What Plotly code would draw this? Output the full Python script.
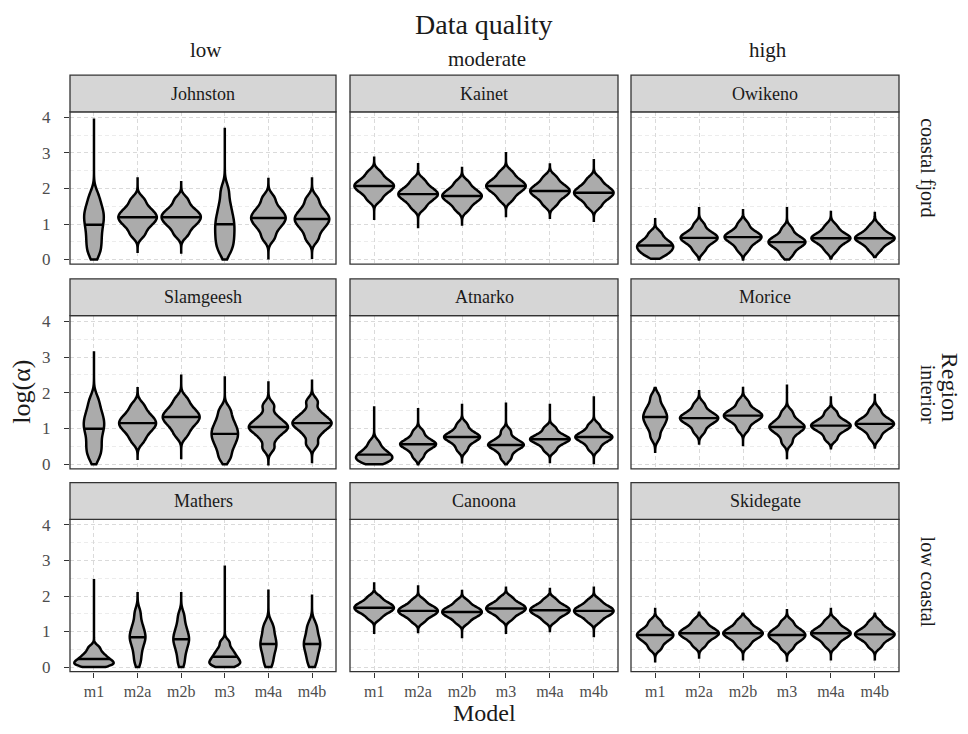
import plotly.graph_objects as go

W, H = 968, 734
MODELS = ["m1", "m2a", "m2b", "m3", "m4a", "m4b"]
QUALITY = ["low", "moderate", "high"]
REGIONS = ["coastal fjord", "interior", "low coastal"]
SITES = [["Johnston", "Kainet", "Owikeno"],
         ["Slamgeesh", "Atnarko", "Morice"],
         ["Mathers", "Canoona", "Skidegate"]]
Y_TICKS = [0, 1, 2, 3, 4]

# ---- posterior samples (quantile-like points), span [min, max], kde bandwidth
JOHNSTON_SAMPLES = [
    [0.15, 0.38, 0.6, 0.82, 1.02, 1.18, 1.34, 1.52, 1.8],
    [0.69, 0.89, 1.02, 1.11, 1.19, 1.27, 1.36, 1.49, 1.69],
    [0.7, 0.9, 1.02, 1.11, 1.19, 1.27, 1.35, 1.48, 1.69],
    [0.22, 0.42, 0.6, 0.78, 0.95, 1.12, 1.32, 1.58, 1.95],
    [0.6, 0.83, 0.98, 1.08, 1.17, 1.26, 1.36, 1.51, 1.74],
    [0.57, 0.8, 0.95, 1.05, 1.14, 1.23, 1.33, 1.48, 1.71]]
JOHNSTON_RANGE = [[0, 3.97], [0.18, 2.32], [0.16, 2.21], [0, 3.71], [0, 2.3], [0.05, 2.32]]
JOHNSTON_BW = [0.2, 0.12, 0.12, 0.2, 0.13, 0.13]

KAINET_SAMPLES = [
    [1.68, 1.84, 1.94, 2.01, 2.07, 2.13, 2.2, 2.3, 2.46],
    [1.45, 1.61, 1.71, 1.78, 1.84, 1.9, 1.97, 2.07, 2.23],
    [1.4, 1.56, 1.66, 1.73, 1.79, 1.85, 1.92, 2.02, 2.18],
    [1.68, 1.84, 1.94, 2.01, 2.07, 2.13, 2.2, 2.3, 2.46],
    [1.54, 1.7, 1.8, 1.87, 1.93, 1.99, 2.06, 2.16, 2.32],
    [1.49, 1.65, 1.75, 1.82, 1.88, 1.94, 2.01, 2.11, 2.27]]
KAINET_RANGE = [[1.11, 2.9], [0.88, 2.72], [0.95, 2.61], [1.19, 3.03], [1.14, 2.71], [1.09, 2.83]]
KAINET_BW = [0.1, 0.1, 0.1, 0.1, 0.1, 0.1]

OWIKENO_SAMPLES = [
    [0.1, 0.19, 0.26, 0.32, 0.38, 0.44, 0.5, 0.6, 0.75],
    [0.24, 0.4, 0.5, 0.56, 0.61, 0.66, 0.72, 0.81, 0.99],
    [0.26, 0.42, 0.52, 0.58, 0.63, 0.68, 0.74, 0.83, 1.01],
    [0.12, 0.28, 0.38, 0.44, 0.49, 0.54, 0.6, 0.69, 0.87],
    [0.25, 0.4, 0.5, 0.56, 0.6, 0.64, 0.7, 0.8, 0.95],
    [0.26, 0.41, 0.5, 0.56, 0.6, 0.64, 0.7, 0.79, 0.94]]
OWIKENO_RANGE = [[0.02, 1.17], [0, 1.48], [0, 1.42], [0, 1.48], [0.03, 1.37], [0.07, 1.31]]
OWIKENO_BW = [0.09, 0.1, 0.1, 0.1, 0.1, 0.1]

SLAMGEESH_SAMPLES = [
    [0.2, 0.42, 0.62, 0.86, 1.02, 1.17, 1.32, 1.52, 1.8],
    [0.65, 0.85, 0.98, 1.07, 1.15, 1.23, 1.32, 1.45, 1.65],
    [0.82, 1.02, 1.15, 1.24, 1.32, 1.4, 1.49, 1.62, 1.82],
    [0.18, 0.42, 0.6, 0.73, 0.85, 0.97, 1.1, 1.28, 1.52],
    [0.45, 0.72, 0.88, 0.97, 1.04, 1.11, 1.2, 1.35, 1.64],
    [0.56, 0.83, 0.99, 1.08, 1.15, 1.22, 1.31, 1.46, 1.75]]
SLAMGEESH_RANGE = [[0, 3.16], [0.12, 2.16], [0.14, 2.51], [0, 2.46], [0, 2.32], [0.03, 2.37]]
SLAMGEESH_BW = [0.19, 0.13, 0.13, 0.14, 0.12, 0.12]

ATNARKO_SAMPLES = [
    [0.04, 0.09, 0.14, 0.19, 0.24, 0.29, 0.36, 0.46, 0.62],
    [0.2, 0.36, 0.46, 0.52, 0.56, 0.6, 0.66, 0.76, 0.92],
    [0.4, 0.56, 0.66, 0.72, 0.76, 0.8, 0.86, 0.96, 1.12],
    [0.16, 0.33, 0.44, 0.5, 0.54, 0.58, 0.64, 0.74, 0.93],
    [0.38, 0.52, 0.61, 0.66, 0.7, 0.74, 0.79, 0.88, 1.02],
    [0.42, 0.57, 0.66, 0.72, 0.76, 0.8, 0.86, 0.95, 1.1]]
ATNARKO_RANGE = [[0, 1.62], [0, 1.57], [0.02, 1.69], [0, 1.73], [0.03, 1.69], [0, 1.9]]
ATNARKO_BW = [0.1, 0.09, 0.09, 0.09, 0.08, 0.085]

MORICE_SAMPLES = [
    [0.75, 0.98, 1.12, 1.23, 1.32, 1.41, 1.52, 1.66, 1.89],
    [0.9, 1.08, 1.18, 1.24, 1.29, 1.34, 1.4, 1.5, 1.68],
    [0.97, 1.15, 1.25, 1.31, 1.36, 1.41, 1.47, 1.57, 1.75],
    [0.6, 0.8, 0.92, 0.99, 1.04, 1.1, 1.17, 1.28, 1.46],
    [0.7, 0.87, 0.97, 1.03, 1.08, 1.13, 1.19, 1.29, 1.46],
    [0.74, 0.92, 1.02, 1.08, 1.13, 1.18, 1.24, 1.34, 1.52]]
MORICE_RANGE = [[0.35, 2.13], [0.58, 2.04], [0.5, 2.13], [0.14, 2.23], [0.45, 1.9], [0.47, 1.97]]
MORICE_BW = [0.12, 0.1, 0.1, 0.1, 0.09, 0.1]

MATHERS_SAMPLES = [
    [0.03, 0.06, 0.1, 0.14, 0.19, 0.25, 0.32, 0.41, 0.55],
    [0.15, 0.4, 0.6, 0.74, 0.84, 0.95, 1.08, 1.26, 1.54],
    [0.1, 0.35, 0.54, 0.68, 0.78, 0.89, 1.02, 1.2, 1.46],
    [0.03, 0.07, 0.12, 0.18, 0.25, 0.32, 0.41, 0.52, 0.7],
    [0.06, 0.25, 0.42, 0.55, 0.65, 0.76, 0.89, 1.06, 1.21],
    [0.07, 0.26, 0.42, 0.55, 0.65, 0.75, 0.88, 1.05, 1.22]]
MATHERS_RANGE = [[0, 2.48], [0, 2.11], [0, 2.11], [0, 2.86], [0, 2.18], [0, 2.04]]
MATHERS_BW = [0.08, 0.15, 0.15, 0.09, 0.15, 0.15]

CANOONA_SAMPLES = [
    [1.37, 1.5, 1.57, 1.62, 1.67, 1.72, 1.77, 1.84, 1.97],
    [1.28, 1.41, 1.48, 1.53, 1.58, 1.63, 1.68, 1.75, 1.88],
    [1.25, 1.38, 1.45, 1.5, 1.55, 1.6, 1.65, 1.72, 1.85],
    [1.35, 1.48, 1.55, 1.6, 1.65, 1.7, 1.75, 1.82, 1.95],
    [1.3, 1.43, 1.5, 1.55, 1.6, 1.65, 1.7, 1.77, 1.9],
    [1.28, 1.41, 1.48, 1.53, 1.58, 1.63, 1.68, 1.75, 1.88]]
CANOONA_RANGE = [[0.93, 2.39], [0.95, 2.3], [0.81, 2.14], [0.93, 2.23], [0.98, 2.23], [0.84, 2.27]]
CANOONA_BW = [0.08, 0.08, 0.08, 0.08, 0.08, 0.08]

SKIDEGATE_SAMPLES = [
    [0.52, 0.68, 0.78, 0.84, 0.9, 0.96, 1.02, 1.12, 1.28],
    [0.6, 0.75, 0.84, 0.9, 0.95, 1.0, 1.06, 1.15, 1.3],
    [0.6, 0.75, 0.84, 0.9, 0.95, 1.0, 1.06, 1.15, 1.3],
    [0.53, 0.69, 0.78, 0.84, 0.9, 0.96, 1.02, 1.11, 1.27],
    [0.6, 0.75, 0.84, 0.9, 0.95, 1.0, 1.06, 1.15, 1.3],
    [0.57, 0.72, 0.81, 0.87, 0.92, 0.97, 1.03, 1.12, 1.27]]
SKIDEGATE_RANGE = [[0.13, 1.67], [0.27, 1.53], [0.18, 1.5], [0.18, 1.6], [0.18, 1.67], [0.18, 1.5]]
SKIDEGATE_BW = [0.09, 0.09, 0.09, 0.09, 0.09, 0.09]

SAMPLES = {"Johnston": JOHNSTON_SAMPLES, "Kainet": KAINET_SAMPLES, "Owikeno": OWIKENO_SAMPLES,
           "Slamgeesh": SLAMGEESH_SAMPLES, "Atnarko": ATNARKO_SAMPLES, "Morice": MORICE_SAMPLES,
           "Mathers": MATHERS_SAMPLES, "Canoona": CANOONA_SAMPLES, "Skidegate": SKIDEGATE_SAMPLES}
RANGES = {"Johnston": JOHNSTON_RANGE, "Kainet": KAINET_RANGE, "Owikeno": OWIKENO_RANGE,
          "Slamgeesh": SLAMGEESH_RANGE, "Atnarko": ATNARKO_RANGE, "Morice": MORICE_RANGE,
          "Mathers": MATHERS_RANGE, "Canoona": CANOONA_RANGE, "Skidegate": SKIDEGATE_RANGE}
BWS = {"Johnston": JOHNSTON_BW, "Kainet": KAINET_BW, "Owikeno": OWIKENO_BW,
       "Slamgeesh": SLAMGEESH_BW, "Atnarko": ATNARKO_BW, "Morice": MORICE_BW,
       "Mathers": MATHERS_BW, "Canoona": CANOONA_BW, "Skidegate": SKIDEGATE_BW}

# ---- layout geometry (pixels)
COL_X = [(70, 336), (350, 618), (631, 899)]
ROW_Y = [(110, 264), (316, 471), (522, 676)]
STRIP_H = 37
FONT = "Liberation Serif"
FILL = "#ababab"
DARK = "#333333"
GRID = "#dadada"


def px(x):
    return x / W


def py(y):
    return 1 - y / H


fig = go.Figure()
layout = dict(
    width=W, height=H, margin=dict(l=0, r=0, t=0, b=0),
    paper_bgcolor="white", plot_bgcolor="white",
    showlegend=False, violinmode="overlay", violingap=0.1, violingroupgap=0,
    font=dict(family=FONT, color="#1a1a1a"),
)
shapes = []
annotations = []

for r in range(3):
    for c in range(3):
        n = r * 3 + c + 1
        site = SITES[r][c]
        xa = "x" if n == 1 else f"x{n}"
        ya = "y" if n == 1 else f"y{n}"
        for k, model in enumerate(MODELS):
            vals = SAMPLES[site][k]
            fig.add_trace(go.Violin(
                x=[model] * len(vals), y=vals, xaxis=xa, yaxis=ya,
                scalegroup=f"panel{n}", scalemode="width",
                spanmode="manual", span=RANGES[site][k], bandwidth=BWS[site][k],
                points=False, box_visible=False,
                meanline=dict(visible=True, color="black", width=2.4),
                fillcolor=FILL, line=dict(color="black", width=2.5),
                opacity=1, hoverinfo="skip", showlegend=False, name=model,
            ))
        x0, x1 = COL_X[c]
        y0, y1 = ROW_Y[r]
        bottom = r == 2
        left = c == 0
        layout["xaxis" if n == 1 else f"xaxis{n}"] = dict(
            domain=[px(x0), px(x1)], anchor=ya, type="category",
            categoryorder="array", categoryarray=MODELS, range=[-0.55, 5.55],
            showgrid=True, gridcolor=GRID, gridwidth=1, griddash="4px,3px",
            zeroline=False, showline=False,
            ticks="outside" if bottom else "", ticklen=5, tickcolor=DARK,
            showticklabels=bottom, tickfont=dict(family=FONT, size=16, color="#4d4d4d"),
        )
        layout["yaxis" if n == 1 else f"yaxis{n}"] = dict(
            domain=[py(y1), py(y0)], anchor=xa, range=[-0.13, 4.16],
            tickvals=Y_TICKS, showgrid=True, gridcolor=GRID, gridwidth=1, griddash="4px,3px",
            minor=dict(dtick=0.5, tick0=0, showgrid=True, gridcolor="#ececec", griddash="4px,3px"),
            zeroline=False, showline=False,
            ticks="outside" if left else "", ticklen=5, tickcolor=DARK,
            ticklabelstandoff=10,
            showticklabels=left, tickfont=dict(family=FONT, size=17, color="#4d4d4d"),
        )
        # panel border
        shapes.append(dict(type="rect", xref="paper", yref="paper",
                           x0=px(x0), x1=px(x1), y0=py(y1), y1=py(y0),
                           line=dict(color=DARK, width=1.3), fillcolor="rgba(0,0,0,0)", layer="above"))
        # strip
        shapes.append(dict(type="rect", xref="paper", yref="paper",
                           x0=px(x0), x1=px(x1), y0=py(y0), y1=py(y0 - STRIP_H),
                           line=dict(color=DARK, width=1.3), fillcolor="#d6d6d6", layer="above"))
        annotations.append(dict(text=site, xref="paper", yref="paper",
                                x=px((x0 + x1) / 2), y=py(y0 - STRIP_H / 2),
                                xanchor="center", yanchor="middle", showarrow=False,
                                font=dict(family=FONT, size=18, color="#1a1a1a")))

# column (data quality) labels
annotations.append(dict(text="Data quality", xref="paper", yref="paper", x=px(484), y=py(22),
                        xanchor="center", yanchor="middle", showarrow=False,
                        font=dict(family=FONT, size=28, color="#1a1a1a")))
for c, q in enumerate(QUALITY):
    yq = 57 if c == 1 else 48
    annotations.append(dict(text=q, xref="paper", yref="paper", x=px(sum(COL_X[c]) / 2 + 3), y=py(yq),
                            xanchor="center", yanchor="middle", showarrow=False,
                            font=dict(family=FONT, size=21, color="#1a1a1a")))
# row (region) labels
ROW_LABEL_Y = [166, 395, 585]
for r, reg in enumerate(REGIONS):
    annotations.append(dict(text=reg, xref="paper", yref="paper", x=px(928), y=py(ROW_LABEL_Y[r]),
                            xanchor="center", yanchor="middle", showarrow=False, textangle=90,
                            font=dict(family=FONT, size=20, color="#1a1a1a")))
annotations.append(dict(text="Region", xref="paper", yref="paper", x=px(950), y=py(388),
                        xanchor="center", yanchor="middle", showarrow=False, textangle=90,
                        font=dict(family=FONT, size=24, color="#1a1a1a")))
# axis titles
annotations.append(dict(text="Model", xref="paper", yref="paper", x=px(484), y=py(718),
                        xanchor="center", yanchor="middle", showarrow=False,
                        font=dict(family=FONT, size=24, color="#1a1a1a")))
annotations.append(dict(text="log(α)", xref="paper", yref="paper", x=px(22), y=py(393),
                        xanchor="center", yanchor="middle", showarrow=False, textangle=-90,
                        font=dict(family=FONT, size=26, color="#1a1a1a")))

layout["shapes"] = shapes
layout["annotations"] = annotations
fig.update_layout(**layout)

POST = """
var st = document.createElement('style');
st.innerHTML = 'html, body { margin: 0 !important; padding: 0 !important; } '
  + '.violins path.meanline, .violins path.mean, path.meanline { stroke-dasharray: none !important; }';
document.head.appendChild(st);
"""
fig.write_html("out.html", post_script=POST, config={"displayModeBar": False})
